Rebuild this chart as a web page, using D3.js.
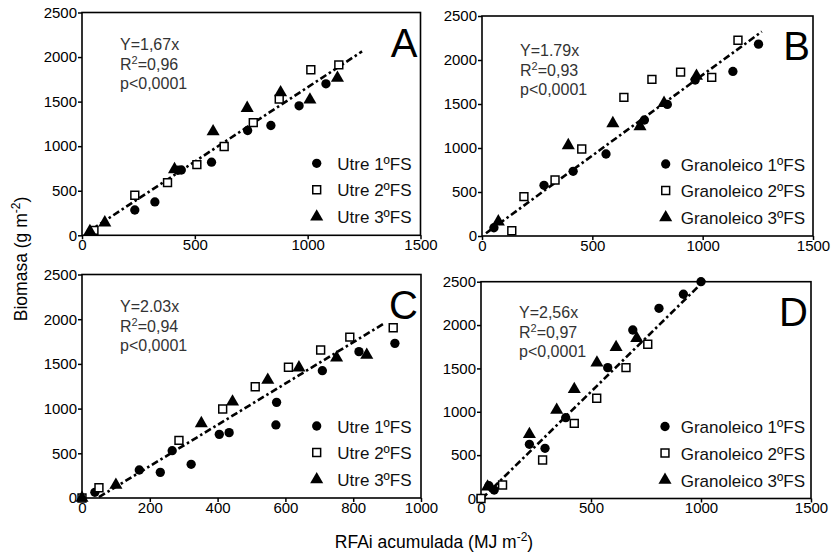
<!DOCTYPE html>
<html>
<head>
<meta charset="utf-8">
<script src="https://cdnjs.cloudflare.com/ajax/libs/d3/7.8.5/d3.min.js"></script>
<style>
  body { margin: 0; background: #fff; }
  svg { font-family: "Liberation Sans", Arial, sans-serif; }
  .tick text { font-size: 15px; fill: #000; }
  .tick line { stroke: #000; stroke-width: 1.5; }
</style>
</head>
<body>
<svg id="chart" width="836" height="555"></svg>
<script>
// Biomasa vs RFAi acumulada, four panels (A-D)

var yTicks = [0, 500, 1000, 1500, 2000, 2500]
  , xTicksWide = [0, 500, 1000, 1500]
  , xTicksC = [0, 200, 400, 600, 800, 1000]
  ;

var labelsUtre = ["Utre 1ºFS", "Utre 2ºFS", "Utre 3ºFS"]
  , labelsGran = ["Granoleico 1ºFS", "Granoleico 2ºFS", "Granoleico 3ºFS"]
  ;

var equations = ["Y=1,67x", "Y=1.79x", "Y=2.03x", "Y=2,56x"]
  , r2Values = ["0,96", "0,93", "0,94", "0,97"]
  , pValue = "p<0,0001"
  , panelLetters = ["A", "B", "C", "D"]
  ;

// [RFAi, biomasa]
var a1 = [[44, 52], [234, 284], [323, 374], [425, 730], [440, 733], [574, 820], [734, 1176], [837, 1232], [962, 1453], [1081, 1700]];
var a2 = [[53, 55], [234, 449], [379, 591], [509, 793], [630, 996], [759, 1265], [874, 1528], [1014, 1857], [1138, 1913]];
var a3 = [[35, 45], [101, 142], [410, 740], [581, 1164], [732, 1427], [880, 1602], [1010, 1520], [1132, 1764]];

var b1 = [[54, 94], [281, 576], [413, 735], [562, 932], [736, 1318], [840, 1495], [966, 1773], [1137, 1870], [1253, 2180]];
var b2 = [[135, 60], [190, 447], [331, 636], [452, 989], [643, 1576], [770, 1780], [900, 1862], [1041, 1802], [1160, 2225]];
var b3 = [[74, 163], [391, 1030], [593, 1280], [716, 1246], [825, 1510], [972, 1818]];

var c1 = [[38, 64], [169, 313], [231, 287], [266, 529], [322, 377], [405, 712], [434, 731], [572, 817], [574, 1070], [709, 1424], [817, 1637], [923, 1730]];
var c2 = [[0, 0], [50, 115], [286, 645], [415, 995], [511, 1245], [609, 1462], [704, 1655], [790, 1800], [918, 1905]];
var c3 = [[0, 0], [100, 145], [352, 835], [444, 1077], [548, 1320], [640, 1458], [751, 1569], [840, 1600]];

var d1 = [[0, 0], [36, 148], [60, 98], [220, 625], [291, 579], [385, 932], [576, 1509], [690, 1943], [809, 2193], [920, 2355], [1000, 2500]];
var d2 = [[0, 0], [98, 156], [280, 444], [424, 867], [526, 1156], [659, 1509], [758, 1778]];
var d3pts = [[30, 136], [220, 740], [344, 1021], [424, 1259], [527, 1566], [614, 1744], [708, 1848]];

// fitted lines as drawn, [start, end]
var fitA = [[24, 34], [1241, 2063]]
  , fitB = [[18, 31], [1268, 2322]]
  , fitC = [[50, 10], [890, 1950]]
  , fitD = [[5, 0], [1018, 2520]]
  ;

// layout (pixels)
var panels = [
  { x0: 82, x1: 420.5, y0: 12.5, y1: 235.3, xmax: 1500, xt: xTicksWide, series: [a1, a2, a3], fit: fitA, labels: labelsUtre, legX: 316.7, legTx: 337.3, annY: 50 },
  { x0: 482, x1: 813, y0: 16, y1: 236, xmax: 1500, xt: xTicksWide, series: [b1, b2, b3], fit: fitB, labels: labelsGran, legX: 665.7, legTx: 680.7, annY: 56 },
  { x0: 82, x1: 421, y0: 274.5, y1: 498, xmax: 1000, xt: xTicksC, series: [c1, c2, c3], fit: fitC, labels: labelsUtre, legX: 316.7, legTx: 337.3, annY: 312 },
  { x0: 481, x1: 811, y0: 281.7, y1: 498.5, xmax: 1500, xt: xTicksWide, series: [d1, d2, d3pts], fit: fitD, labels: labelsGran, legX: 665, legTx: 680.7, annY: 318 }
];

var svg = d3.select("#chart");

var symbols = [d3.symbolCircle, d3.symbolSquare, d3.symbolTriangle]
  , symSizes = [68, 62, 74]
  , symFill = ["#000", "#fff", "#000"]
  ;

function drawMarker (g, k, x, y) {
  g.append("path")
   .attr("d", d3.symbol().type(symbols[k]).size(symSizes[k])())
   .attr("transform", "translate(" + x + "," + y + ")")
   .attr("fill", symFill[k])
   .attr("stroke", "#000")
   .attr("stroke-width", k === 1 ? 1.5 : 0);
}

panels.forEach(function (p, i) {
  var g = svg.append("g");
  var x = d3.scaleLinear().domain([0, p.xmax]).range([p.x0, p.x1]);
  var y = d3.scaleLinear().domain([0, 2500]).range([p.y1, p.y0]);

  g.append("g")
   .attr("transform", "translate(0," + p.y1 + ")")
   .call(d3.axisBottom(x).tickValues(p.xt).tickFormat(d3.format("d")).tickSize(4).tickPadding(0))
   .call(function (s) { s.select(".domain").remove(); });

  g.append("g")
   .attr("transform", "translate(" + p.x0 + ",0)")
   .call(d3.axisLeft(y).tickValues(yTicks).tickFormat(d3.format("d")).tickSize(4).tickPadding(1))
   .call(function (s) { s.select(".domain").remove(); });

  g.append("rect")
   .attr("x", p.x0).attr("y", p.y0)
   .attr("width", p.x1 - p.x0).attr("height", p.y1 - p.y0)
   .attr("fill", "none").attr("stroke", "#000").attr("stroke-width", 1.6);

  // regression line
  g.append("line")
   .attr("x1", x(p.fit[0][0])).attr("y1", y(p.fit[0][1]))
   .attr("x2", x(p.fit[1][0])).attr("y2", y(p.fit[1][1]))
   .attr("stroke", "#000").attr("stroke-width", 2.6)
   .attr("stroke-dasharray", "7,3,2.5,3");

  // points
  p.series.forEach(function (pts, k) {
    pts.forEach(function (d) { drawMarker(g, k, x(d[0]), y(d[1])); });
  });

  // annotation
  var ax = p.x0 + 38;
  var t = g.append("g").attr("font-size", 16).attr("fill", "#333");
  t.append("text").attr("x", ax).attr("y", p.annY).text(equations[i]);
  var r = t.append("text").attr("x", ax).attr("y", p.annY + 20);
  r.append("tspan").text("R");
  r.append("tspan").attr("dy", -6).attr("font-size", 11).text("2");
  r.append("tspan").attr("dy", 6).text("=" + r2Values[i]);
  t.append("text").attr("x", ax).attr("y", p.annY + 39).text(pValue);

  // panel letter
  g.append("text")
   .attr("x", p.x1 - 3).attr("y", p.y0 + 44)
   .attr("text-anchor", "end").attr("font-size", 40)
   .text(panelLetters[i]);

  // legend
  var rows = [p.y1 - 72, p.y1 - 45.5, p.y1 - 18.5];
  p.labels.forEach(function (lab, k) {
    drawMarker(g, k, p.legX, rows[k]);
    g.append("text")
     .attr("x", p.legTx).attr("y", rows[k] + 6.5)
     .attr("font-size", 17).attr("fill", "#111")
     .text(lab);
  });
});

// axis titles
var yt = svg.append("text")
  .attr("transform", "translate(27,259) rotate(-90)")
  .attr("text-anchor", "middle").attr("font-size", 17.5);
yt.append("tspan").text("Biomasa (g m");
yt.append("tspan").attr("dy", -7).attr("font-size", 12).text("-2");
yt.append("tspan").attr("dy", 7).text(")");

var xt = svg.append("text")
  .attr("x", 434).attr("y", 548)
  .attr("text-anchor", "middle").attr("font-size", 17.5);
xt.append("tspan").text("RFAi acumulada (MJ m");
xt.append("tspan").attr("dy", -7).attr("font-size", 12).text("-2");
xt.append("tspan").attr("dy", 7).text(")");
</script>
</body>
</html>
